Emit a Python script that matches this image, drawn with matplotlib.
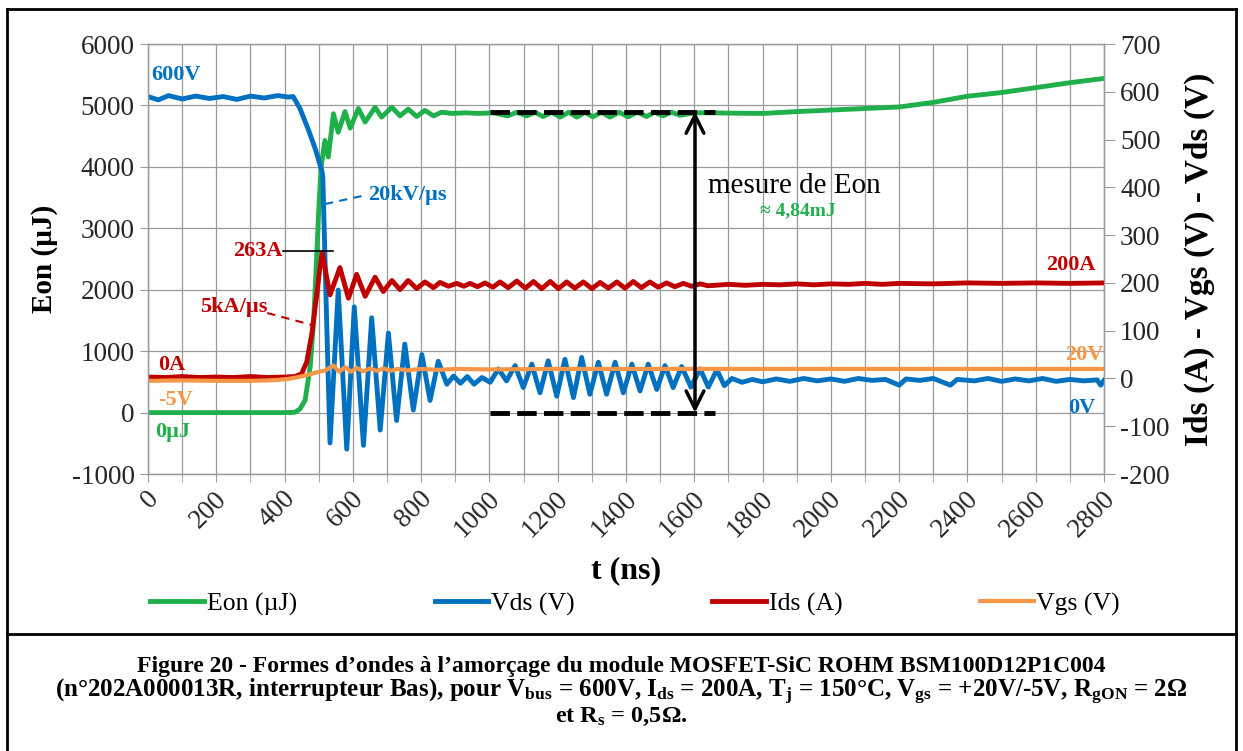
import matplotlib
matplotlib.use("Agg")
import matplotlib.pyplot as plt
from matplotlib.lines import Line2D
from matplotlib.transforms import ScaledTranslation

plt.rcParams['font.family'] = ['Liberation Serif', 'DejaVu Serif']
plt.rcParams['mathtext.fontset'] = 'custom'
plt.rcParams['mathtext.rm'] = 'Liberation Serif:bold'
plt.rcParams['mathtext.it'] = 'Liberation Serif:bold'
plt.rcParams['mathtext.bf'] = 'Liberation Serif:bold'
plt.rcParams['axes.unicode_minus'] = False

##########
# Data read from the oscilloscope capture (t in ns)

# Vds (V) - right axis
t_vds = [0, 30, 60, 100, 140, 180, 220, 260, 300, 340, 380, 410, 425, 445, 470, 490, 510,
         512, 522, 533, 557, 582, 604, 631, 655, 680, 704, 728, 752, 777, 802, 826, 850,
         875, 895, 915, 935, 955, 978, 1002, 1026, 1050, 1075, 1099, 1124, 1148, 1172,
         1197, 1221, 1246, 1270, 1294, 1319, 1343, 1368, 1392, 1417, 1441, 1465, 1490,
         1514, 1538, 1563, 1590, 1617, 1641, 1666, 1688, 1710, 1740, 1770, 1800, 1840,
         1880, 1920, 1960, 2000, 2040, 2080, 2120, 2160, 2200, 2220, 2260, 2300, 2350,
         2370, 2420, 2460, 2500, 2540, 2580, 2620, 2660, 2700, 2740, 2780, 2790, 2800]
vds = [590, 583, 592, 585, 591, 586, 590, 584, 591, 587, 592, 589, 590, 565, 520, 480, 432,
       420, 150, -135, 185, -148, 150, -140, 127, -108, 95, -88, 72, -66, 50, -46, 36,
       -12, 5, -10, 4, -12, 2, -8, 20, -5, 27, -19, 30, -30, 37,
       -37, 40, -40, 44, -33, 34, -33, 34, -30, 30, -26, 30, -23,
       27, -19, 25, -18, 20, -18, 18, -15, 0, -8, -2, -7, -1,
       -6, 0, -5, -1, -6, 0, -4, -2, -14, -1, -4, 0, -14,
       -2, -5, 0, -6, -1, -5, 0, -6, -2, -5, -3, -14, -4]

# Ids (A) - right axis
t_ids = [0, 50, 100, 150, 200, 250, 300, 350, 400, 430, 450, 465, 480, 495, 503, 510,
         533, 562, 587, 611, 636, 665, 689, 714, 738, 762, 787, 811, 836, 855, 880, 904,
         925, 943, 965, 987, 1010, 1031, 1055, 1080, 1105, 1129, 1153, 1178, 1202, 1226,
         1250, 1275, 1300, 1324, 1348, 1373, 1397, 1421, 1445, 1470, 1494, 1519, 1543,
         1568, 1592, 1617, 1640, 1700, 1750, 1800, 1850, 1900, 1950, 2000, 2050, 2100,
         2150, 2200, 2300, 2400, 2500, 2600, 2700, 2800]
ids = [3, 2, 4, 2, 3, 2, 4, 2, 3, 4, 10, 35, 95, 180, 230, 263,
       175, 232, 168, 218, 172, 212, 182, 205, 186, 205, 188, 202, 190, 201, 193, 199,
       193, 199, 192, 200, 191, 202, 190, 204, 189, 203, 188, 203, 188, 202,
       189, 202, 188, 201, 189, 202, 189, 203, 190, 202, 191, 200, 192,
       199, 193, 198, 194, 197, 195, 197, 196, 198, 196, 198, 197, 199,
       197, 199, 198, 200, 199, 200, 199, 200]

# Eon (uJ) - left axis
t_eon = [0, 100, 200, 300, 400, 430, 445, 460, 475, 485, 492, 500, 507, 518, 528, 543,
         557, 577, 592, 616, 636, 665, 684, 714, 738, 762, 787, 811, 836, 860, 890, 930,
         970, 1010, 1054, 1080, 1109, 1133, 1157, 1182, 1207, 1232, 1256, 1280, 1303,
         1328, 1353, 1380, 1406, 1433, 1460, 1484, 1508, 1533, 1558, 1600, 1650, 1700,
         1800, 1900, 2000, 2100, 2200, 2300, 2400, 2500, 2600, 2700, 2800]
eon = [0, 0, 0, 0, 0, 5, 60, 200, 750, 1500, 2300, 3300, 4000, 4430, 4160, 4865,
       4565, 4900, 4630, 4950, 4730, 4970, 4810, 4970, 4830, 4940, 4820, 4920, 4830, 4890, 4870, 4880,
       4870, 4880, 4830, 4890, 4830, 4890, 4820, 4890, 4810, 4890, 4810, 4890, 4815,
       4890, 4810, 4890, 4815, 4890, 4820, 4890, 4830, 4890, 4840, 4880, 4880, 4875,
       4870, 4900, 4925, 4950, 4975, 5050, 5150, 5210, 5290, 5370, 5440]

# Vgs (V) - right axis
t_vgs = [0, 100, 200, 300, 350, 380, 410, 440, 470, 500, 520, 543, 560, 577, 595, 611,
         630, 650, 670, 690, 710, 730, 760, 800, 850, 900, 1000, 1200, 1600, 2000, 2400, 2800]
vgs = [-5, -4, -5, -5, -4, -3, -1, 3, 8, 14, 17, 27, 14, 24, 14, 22,
       15, 21, 16, 21, 16, 20, 17, 20, 18, 20, 19, 20, 20, 20, 20, 20]

# Eon measurement marks
eon_measure = 4900
t_measure = 1602
t_dash = [1002, 1661]

##########

c_eon = '#20B04B'
c_vds = '#0070C0'
c_ids = '#C00000'
c_vgs = '#F79646'
grid_c = '#9A9A9A'

fig = plt.figure(figsize=(12.43, 7.51), dpi=100)
ax = fig.add_axes([0.1191, 0.3688, 0.7691, 0.5726])
ax2 = ax.twinx()

ax.plot(t_eon, eon, color=c_eon, lw=3.5, label='Eon (µJ)', solid_joinstyle='round')
ax2.plot(t_vds, vds, color=c_vds, lw=3.5, label='Vds (V)', solid_joinstyle='round')
ax2.plot(t_ids, ids, color=c_ids, lw=3.5, label='Ids (A)', solid_joinstyle='round')
ax2.plot(t_vgs, vgs, color=c_vgs, lw=3.0, label='Vgs (V)', solid_joinstyle='round')

ax.set_xlim(0, 2800)
ax.set_ylim(-1000, 6000)
ax2.set_ylim(-200, 700)
ax.set_xticks(range(0, 2801, 200))
ax.set_xticks(range(0, 2801, 100), minor=True)
ax.set_yticks(range(-1000, 6001, 1000))
ax2.set_yticks(range(-200, 701, 100))
ax.grid(True, which='both', axis='x', color=grid_c, lw=0.9)
ax.grid(True, which='major', axis='y', color=grid_c, lw=0.9)
ax.set_axisbelow(True)

for a in (ax, ax2):
    for s in a.spines.values():
        s.set_color(grid_c)
        s.set_linewidth(0.9)
ax.tick_params(axis='both', which='both', color=grid_c, length=6, labelsize=19.5,
               labelcolor='#262626')
ax2.tick_params(axis='y', color=grid_c, length=8, labelsize=19.5, labelcolor='#262626')
for lab in ax.get_xticklabels():
    lab.set_rotation(45)
    lab.set_ha('right')
    lab.set_va('center')
    lab.set_rotation_mode('anchor')
    lab.set_transform(lab.get_transform() + ScaledTranslation(0.07, -0.08, fig.dpi_scale_trans))

ax.set_ylabel('Eon (µJ)', fontsize=21, fontweight='bold', labelpad=10)
ax2.set_ylabel('Ids (A) - Vgs (V) - Vds (V)', fontsize=24, fontweight='bold', labelpad=10)
ax.set_xlabel('t (ns)', fontsize=23, fontweight='bold', labelpad=10)

# annotations
tk = dict(fontsize=16, fontweight='bold')
ax2.text(8, 635, '600V', color=c_vds, ha='left', va='center', **tk)
ax2.text(644, 384, '20kV/µs', color=c_vds, ha='left', va='center', **tk)
ax2.plot([518, 627], [365, 382], color=c_vds, lw=1.5, ls=(0, (4, 3)))
ax2.text(393, 267, '263A', color=c_ids, ha='right', va='center', **tk)
ax2.plot([395, 542], [267, 267], color='black', lw=1.2)
ax2.text(153, 150, '5kA/µs', color=c_ids, ha='left', va='center', **tk)
ax2.plot([349, 480], [137, 112], color=c_ids, lw=1.5, ls=(0, (4, 3)))
ax2.text(29, 28, '0A', color=c_ids, ha='left', va='center', **tk)
ax2.text(29, -45, '-5V', color=c_vgs, ha='left', va='center', **tk)
ax2.text(20, -112, '0µJ', color=c_eon, ha='left', va='center', **tk)
ax2.text(2774, 237, '200A', color=c_ids, ha='right', va='center', **tk)
ax2.text(2797, 49, '20V', color=c_vgs, ha='right', va='center', **tk)
ax2.text(2774, -62, '0V', color=c_vds, ha='right', va='center', **tk)

# measurement of Eon: dashed levels and double arrow (left axis units)
ax2.plot(t_dash, [eon_measure] * 2, color='black', lw=3.5, ls=(0, (4, 1.5)),
         transform=ax.transData)
ax2.plot(t_dash, [0, 0], color='black', lw=3.5, ls=(0, (4, 1.5)), transform=ax.transData)
ax2.annotate('', xy=(t_measure, eon_measure), xycoords=ax.transData,
             xytext=(t_measure, 0), textcoords=ax.transData,
             arrowprops=dict(arrowstyle='<->', color='black', lw=2.5, mutation_scale=32,
                             shrinkA=0, shrinkB=0))
ax2.text(1892, 403, 'mesure de Eon', color='black', ha='center', va='center', fontsize=21)
ax2.text(1904, 352, '≈ 4,84mJ', color=c_eon, ha='center', va='center', fontsize=14,
         fontweight='bold')

# legend
h1, l1 = ax.get_legend_handles_labels()
h2, l2 = ax2.get_legend_handles_labels()
leg = fig.legend(h1 + h2, l1 + l2, loc='center', bbox_to_anchor=(0.511, 0.196), ncol=4,
                 frameon=False, fontsize=18.5, handlelength=2.1, handletextpad=0.1,
                 columnspacing=5.35)

# frame around figure + caption
fig.add_artist(Line2D([0.006, 0.006], [0, 0.988], color='black', lw=2))
fig.add_artist(Line2D([0.9945, 0.9945], [0, 0.988], color='black', lw=2))
fig.add_artist(Line2D([0.006, 0.9945], [0.988, 0.988], color='black', lw=2))
fig.add_artist(Line2D([0.006, 0.9945], [0.156, 0.156], color='black', lw=2))

cap = dict(ha='center', va='center', fontweight='bold', color='black')
fig.text(0.5, 0.112, 'Figure 20 - Formes d’ondes à l’amorçage du module MOSFET-SiC ROHM BSM100D12P1C004',
         fontsize=17, **cap)
fig.text(0.5, 0.079, '(n°202A000013R, interrupteur Bas), pour V$_{bus}$ = 600V, I$_{ds}$ = 200A, '
         'T$_{j}$ = 150°C, V$_{gs}$ = +20V/-5V, R$_{gON}$ = 2Ω', fontsize=18, **cap)
fig.text(0.5, 0.046, 'et R$_{s}$ = 0,5Ω.', fontsize=17.5, **cap)

fig.savefig('out.png', dpi=100)
